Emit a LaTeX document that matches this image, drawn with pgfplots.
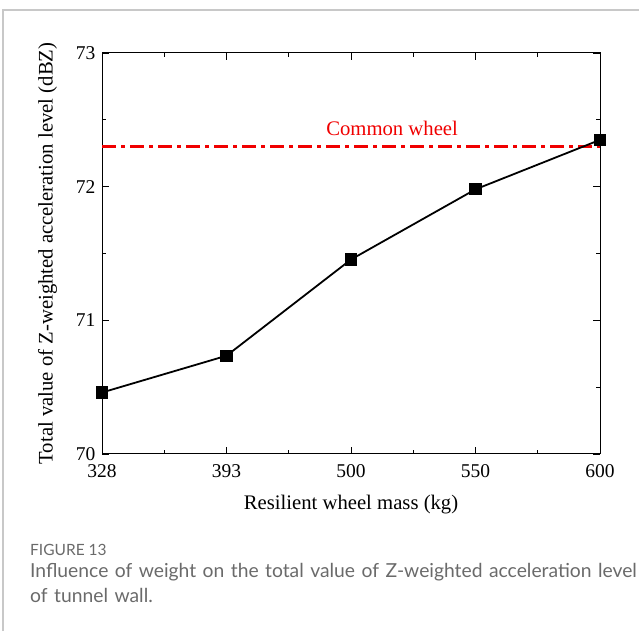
\documentclass[border=0pt]{standalone}
\usepackage{fontspec}
\setmainfont{Liberation Serif}
\newfontfamily\capfont{Lato}
\usepackage{pgfplots}
\pgfplotsset{compat=1.18}
\definecolor{framegray}{HTML}{C8C8C8}
\definecolor{capgray}{HTML}{6A6A6A}
\definecolor{refred}{HTML}{F00000}

\pgfplotstableread{
mass value
0 70.46
1 70.735
2 71.455
3 71.98
4 72.35
}\masstable

\begin{document}
\begin{tikzpicture}
\useasboundingbox (0pt,0pt) rectangle (639pt,631pt);
% page frame
\draw[framegray, line width=1.2pt] (3pt,0pt) -- (3pt,621pt) -- (639pt,621pt);

\begin{axis}[
  at={(102pt,177pt)}, anchor=south west,
  scale only axis, width=498pt, height=401pt,
  xmin=0, xmax=4, ymin=70, ymax=73,
  xtick={0,1,2,3,4},
  xticklabels={328,393,500,550,600},
  minor xtick={0.5,1.5,2.5,3.5},
  ytick={70,71,72,73},
  minor ytick={70.5,71.5,72.5},
  tick align=inside,
  major tick length=7pt, minor tick length=4pt,
  every tick/.style={black, line width=0.8pt},
  axis line style={line width=1pt},
  ticklabel style={font=\fontsize{19.5}{22}\selectfont},
  /pgf/number format/assume math mode=true,
  yticklabel style={xshift=-3pt},
  xticklabel style={yshift=-7pt},
  xlabel={Resilient wheel mass (kg)},
  ylabel={Total value of Z-weighted acceleration level (dBZ)},
  label style={font=\fontsize{20.7}{23}\selectfont},
  xlabel style={yshift=-11pt},
  ylabel style={yshift=12pt},
  clip=false,
]
\addplot[refred, line width=2.3pt, dash pattern=on 14pt off 5pt on 4pt off 5pt]
  coordinates {(0,72.3) (4,72.3)};
\node[refred, font=\fontsize{20.7}{23}\selectfont, anchor=base] at (axis cs:2.33,72.38) {Common wheel};
\addplot[black, line width=1.8pt, mark=square*, mark size=5.2pt,
  mark options={solid, fill=black}] table[x=mass, y=value] {\masstable};
\end{axis}

% caption
\node[anchor=base west, capgray, font=\capfont\fontsize{15.5}{17}\selectfont, inner sep=0pt] at (30pt,75pt) {FIGURE 13};
\node[anchor=base west, capgray, font=\capfont\fontsize{19.3}{25}\selectfont, align=left, text width=630pt, inner sep=0pt] at (30pt,53pt)
  {Influence of weight on the total value of Z-weighted acceleration level\\of tunnel wall.};
\end{tikzpicture}
\end{document}
